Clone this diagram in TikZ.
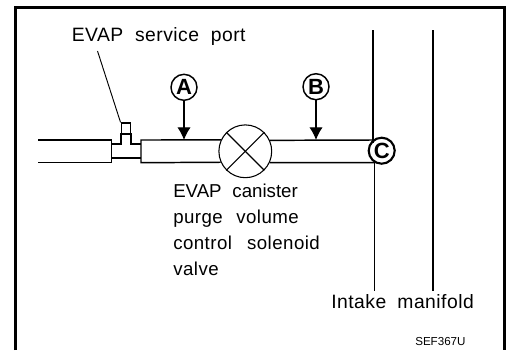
\documentclass[tikz,border=0pt]{standalone}
\usepackage{fontspec}
\setmainfont{Liberation Sans}
\newfontfamily\labfont[LetterSpace=2.5]{Liberation Sans}
\usepackage{tikz}
\usetikzlibrary{arrows.meta,positioning}
\begin{document}
\begin{tikzpicture}[x=0.75pt,y=-0.75pt,font=\fontsize{14pt}{19.5pt}\selectfont,
  wall/.style={line width=1.2pt},
  pipe/.style={line width=1.1pt},
  tag/.style={circle,draw,line width=1.1pt,fill=white,inner sep=0pt,minimum size=19.5pt,
              font=\fontsize{16.5pt}{16.5pt}\selectfont\bfseries},
  ar/.style={-{Latex[length=9.5pt,width=10pt]},line width=0.9pt},
  lab/.style={inner sep=0pt,anchor=base west,align=left},
  biglab/.style={lab,font=\fontsize{14.5pt}{19.5pt}\selectfont},
]
\useasboundingbox (0,0) rectangle (506,350);
% frame
\draw[line width=2.25pt] (15.5,350) -- (15.5,7.5) -- (504.5,7.5) -- (504.5,350);
% valve
\node[circle,draw,line width=0.8pt,minimum size=39.6pt,inner sep=0pt] (valve) at (245.3,151.3) {};
\draw[line width=0.8pt] (valve.45) -- (valve.225);
\draw[line width=0.8pt] (valve.135) -- (valve.315);
% pipes
\draw[pipe] (38,140) -- (111.5,140) -- (111.5,162.7) -- (38,162.7);
\draw[pipe] (valve.155.4) -- (141,140) -- (141,162.7) -- (valve.204.6);
\draw[pipe] (valve.24.6) -- (373,140);
\draw[pipe] (valve.335.4) -- (374,162.7);
% service port
\draw[pipe] (111.5,144) -- (121,144) -- (121,134) -- (131,134) -- (131,144) -- (141,144);
\draw[pipe] (111.5,158) -- (141,158);
\node[draw,line width=1pt,inner sep=0pt,minimum width=7.2pt,minimum height=8.2pt] (port) at (126,128.5) {};
% tags
\node[tag] (A) at (184,87.3) {A};
\node[tag] (B) at (316,86.7) {B};
\node[tag,line width=1.6pt] (C) at (381.7,150.7) {C};
\coordinate (Aend) at (184,140);
\coordinate (Bend) at (316,140);
\draw[ar] (A) -- (Aend);
\draw[ar] (B) -- (Bend);
% intake manifold
\coordinate (mt1) at (372.7,30);
\coordinate (mb1) at (374.3,291);
\coordinate (mt2) at (432.7,30);
\coordinate (mb2) at (432.7,291);
\draw[wall] (mt1) -- (372.7,143);
\draw[line width=0.8pt] (374.3,160) -- (mb1);
\draw[wall] (mt2) -- (mb2);
% labels
\node[biglab] (portlab) at (71.5,41.7) {\labfont EVAP\hspace{0.3em} service\hspace{0.3em} port};
\coordinate (leadend) at (97.5,51);
\draw[line width=0.7pt] (leadend) -- (port.north west);
\node[lab] (valvelab) at (173,275) {EVAP\hspace{0.3em} canister\\
  {\labfont purge\hspace{0.42em} volume}\\
  {\labfont control\hspace{0.5em} solenoid}\\
  {\labfont valve}};
\node[biglab] (mflab) at (331,308) {\labfont Intake\hspace{0.27em} manifold};
\node[lab,font=\fontsize{8.7pt}{8.7pt}\selectfont] (code) at (415,345) {SEF367U};
\end{tikzpicture}
\end{document}
